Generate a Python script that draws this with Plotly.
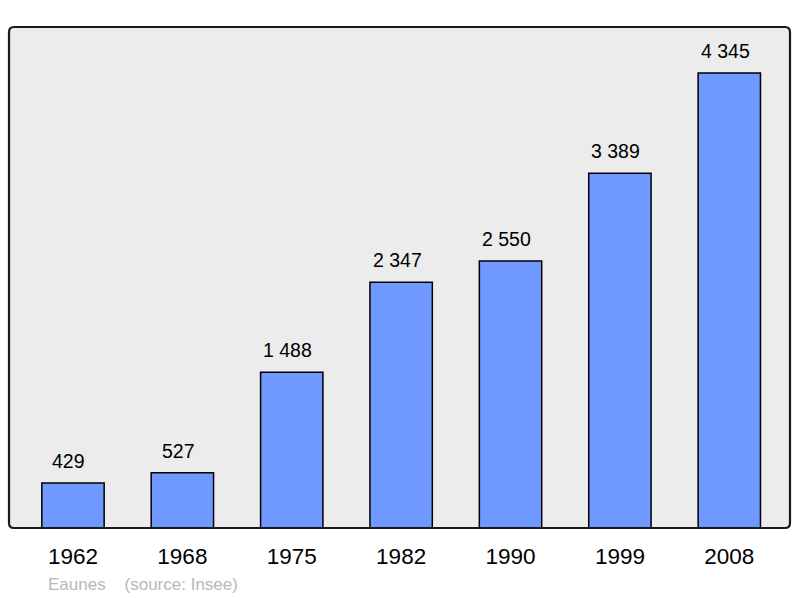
import plotly.graph_objects as go

years = ["1962", "1968", "1975", "1982", "1990", "1999", "2008"]
population = [429, 527, 1488, 2347, 2550, 3389, 4345]
labels = ["429", "527", "1 488", "2 347", "2 550", "3 389", "4 345"]

W, H = 800, 598
ml, mr, mt, mb = 9, 10, 27, 70
pw, ph = W - ml - mr, H - mt - mb
FONT = "Liberation Sans, Arial, sans-serif"

fig = go.Figure()
fig.add_trace(go.Bar(
    x=years, y=population, width=0.57,
    marker=dict(color="#7099ff", line=dict(color="#000000", width=1.5)),
    hoverinfo="x+y",
))

for i, (v, t) in enumerate(zip(population, labels)):
    fig.add_annotation(x=i, y=v, text=t, showarrow=False, yanchor="bottom",
                       yshift=9, xshift=-4,
                       font=dict(size=19.5, color="#000000", family=FONT))

fig.add_annotation(xref="paper", yref="paper", x=(46 - ml) / pw, y=-(584 - (H - mb)) / ph,
                   xanchor="left", yanchor="middle", showarrow=False,
                   text="Eaunes\u00a0\u00a0\u00a0\u00a0(source: Insee)",
                   font=dict(size=17, color="#b8b8b8", family=FONT))

# rounded border
r = 5
rx, ry = r / pw, r / ph
x0, x1, y0, y1 = 0, 1, 0, 1
path = (f"M {x0+rx},{y0} L {x1-rx},{y0} Q {x1},{y0} {x1},{y0+ry} "
        f"L {x1},{y1-ry} Q {x1},{y1} {x1-rx},{y1} L {x0+rx},{y1} "
        f"Q {x0},{y1} {x0},{y1-ry} L {x0},{y0+ry} Q {x0},{y0} {x0+rx},{y0} Z")
fig.add_shape(type="path", path=path, xref="paper", yref="paper",
              fillcolor="#ececec", line=dict(width=0), layer="below")
fig.add_shape(type="path", path=path, xref="paper", yref="paper",
              line=dict(color="#1a1a1a", width=2.2), layer="above")

fig.update_layout(
    width=W, height=H,
    margin=dict(l=ml, r=mr, t=mt, b=mb, pad=0),
    paper_bgcolor="#ffffff", plot_bgcolor="rgba(0,0,0,0)",
    showlegend=False,
    font=dict(family=FONT, color="#000000"),
    xaxis=dict(type="category", range=[-0.585, 6.555], showgrid=False, zeroline=False,
               showline=False, ticks="", tickfont=dict(size=22.5, color="#000000"),
               ticklabelstandoff=12, fixedrange=True),
    yaxis=dict(range=[0, 4785], showgrid=False, zeroline=False, showline=False,
               showticklabels=False, ticks="", fixedrange=True),
)

fig.write_html("out.html", config={"displayModeBar": False},
               post_script="document.body.style.margin='0';")
